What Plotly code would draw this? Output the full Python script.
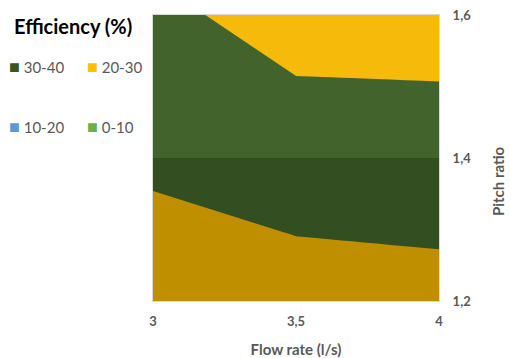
import plotly.graph_objects as go

# ---- data ----
flow_rate = [3, 3.5, 4]            # l/s
pitch_ratio = [1.2, 1.4, 1.6]
# efficiency (%) rows follow pitch_ratio, columns follow flow_rate
eff_p12 = [25.0, 27.1, 28.3]
eff_p14 = [31.5, 33.5, 33.0]
eff_p16 = [31.5, 27.4, 27.4]

band_names = ["30-40", "20-30", "10-20", "0-10"]
band_colors = ["#375623", "#FFC000", "#5B9BD5", "#70AD47"]

GREY = "#595959"
FONT = "Lato"

# shading of the surface (Excel lighting): upper half lighter, lower half darker
upper_scale = [[0, "#70AD47"], [0.25, "#70AD47"], [0.25, "#5B9BD5"], [0.5, "#5B9BD5"],
               [0.5, "#F6BB0A"], [0.75, "#F6BB0A"], [0.75, "#42642C"], [1, "#42642C"]]
lower_scale = [[0, "#70AD47"], [0.25, "#70AD47"], [0.25, "#5B9BD5"], [0.5, "#5B9BD5"],
               [0.5, "#BF8F00"], [0.75, "#BF8F00"], [0.75, "#334E21"], [1, "#334E21"]]

fig = go.Figure()

common = dict(
    x=flow_rate,
    zmin=0, zmax=40,
    autocontour=False,
    contours=dict(start=0, end=40, size=10, coloring="fill", showlines=False),
    line=dict(width=0, smoothing=0),
    showscale=False,
    hoverinfo="skip",
    showlegend=False,
)
fig.add_trace(go.Contour(y=pitch_ratio[1:], z=[eff_p14, eff_p16], colorscale=upper_scale, **common))
fig.add_trace(go.Contour(y=pitch_ratio[:2], z=[eff_p12, eff_p14], colorscale=lower_scale, **common))

L, R, T, B = 153, 72, 15, 57
W, H = 511, 358
pw, ph = W - L - R, H - T - B


def px_x(px):
    return (px - L) / pw


def px_y(py):
    return (H - B - py) / ph


annotations = [
    dict(text="Efficiency (%)", xref="paper", yref="paper", x=px_x(12), y=px_y(26),
         xanchor="left", yanchor="middle", showarrow=False,
         font=dict(family=FONT, size=20, color="black", weight="bold")),
    dict(text="Pitch ratio", xref="paper", yref="paper", x=px_x(498), y=px_y(181),
         xanchor="center", yanchor="middle", textangle=-90, showarrow=False,
         font=dict(family=FONT, size=15, color=GREY, weight="bold")),
]
legend_pos = [(7, 66), (85, 66), (7, 126), (85, 126)]
for name, col, (lx, ly) in zip(band_names, band_colors, legend_pos):
    annotations.append(dict(
        text=f"<span style='color:{col};font-size:18px'>■</span> {name}",
        xref="paper", yref="paper", x=px_x(lx), y=px_y(ly),
        xanchor="left", yanchor="middle", showarrow=False,
        font=dict(family=FONT, size=15, color=GREY),
    ))

fig.update_layout(
    width=W, height=H,
    margin=dict(l=L, r=R, t=T, b=B),
    paper_bgcolor="white", plot_bgcolor="white",
    separators=", ",
    font=dict(family=FONT, color=GREY),
    showlegend=False,
    xaxis=dict(
        range=[3, 4], dtick=0.5, tick0=3, showgrid=False, zeroline=False,
        showline=True, linecolor="#D9D9D9", linewidth=1, mirror=True,
        tickfont=dict(family=FONT, size=13, color=GREY, weight="bold"),
        ticks="", ticklabelstandoff=8, automargin=False,
        title=dict(text="Flow rate (l/s)", font=dict(family=FONT, size=15, color=GREY, weight="bold"), standoff=16),
    ),
    yaxis=dict(
        range=[1.2, 1.6], dtick=0.2, tick0=1.2, side="right", showgrid=False, zeroline=False,
        showline=True, linecolor="#D9D9D9", linewidth=1, mirror=True,
        tickfont=dict(family=FONT, size=13, color=GREY, weight="bold"),
        ticks="", ticklabelstandoff=10, automargin=False,
    ),
    annotations=annotations,
)

fig.write_html("out.html")
